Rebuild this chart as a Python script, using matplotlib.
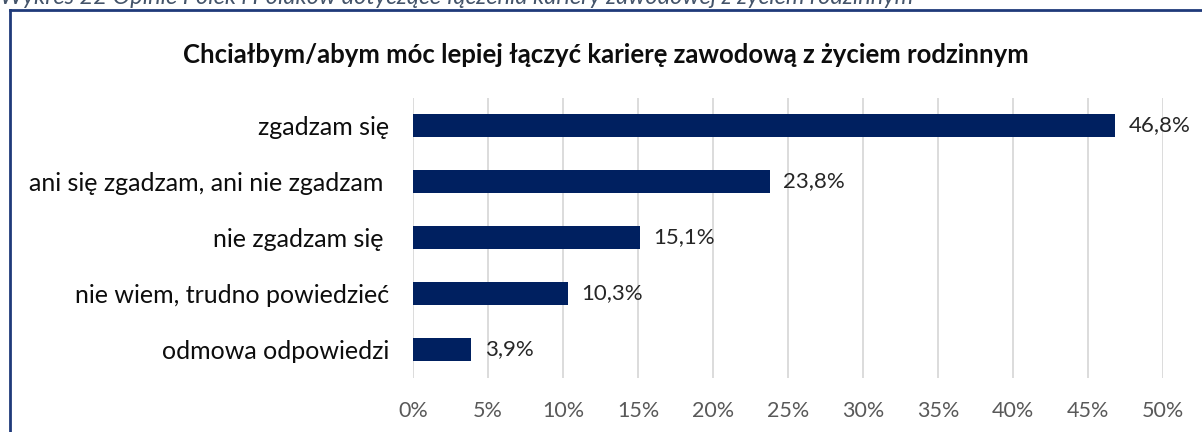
import matplotlib.pyplot as plt
from matplotlib.lines import Line2D
from matplotlib.ticker import FuncFormatter, MultipleLocator

# Data
categories = ["zgadzam się", "ani się zgadzam, ani nie zgadzam ", "nie zgadzam się ",
              "nie wiem, trudno powiedzieć", "odmowa odpowiedzi"]
values = [46.8, 23.8, 15.1, 10.3, 3.9]
title = "Chciałbym/abym móc lepiej łączyć karierę zawodową z życiem rodzinnym"
caption = "Wykres 22 Opinie Polek i Polaków dotyczące łączenia kariery zawodowej z życiem rodzinnym"

plt.rcParams['font.family'] = ['Lato', 'DejaVu Sans']

W, H = 1202, 432
fig = plt.figure(figsize=(W / 100, H / 100), dpi=100)

# plot area in pixels
x0, x1 = 413, 1163
y_top, y_bot = 97.5, 377.5
ax = fig.add_axes([x0 / W, 1 - y_bot / H, (x1 - x0) / W, (y_bot - y_top) / H])

pos = list(range(len(categories)))
ax.barh(pos, values, height=0.41, color='#002060', zorder=3)
for p, v in zip(pos, values):
    ax.text(v + 0.9, p, f"{v:.1f}%".replace('.', ','), va='center', ha='left',
            fontsize=16, color='#262626')

ax.set_xlim(0, 50)
ax.set_ylim(len(categories) - 0.5, -0.5)
ax.xaxis.set_major_locator(MultipleLocator(5))
ax.xaxis.set_major_formatter(FuncFormatter(lambda x, _: f"{x:.0f}%"))
ax.grid(axis='x', color='#d9d9d9', linewidth=1.3, zorder=0)
ax.set_yticks(pos)
ax.set_yticklabels(categories, fontsize=18, color='#0d0d0d')
ax.tick_params(axis='y', length=0, pad=17)
ax.tick_params(axis='x', length=0, pad=17, labelsize=15.5, labelcolor='#595959')
for s in ax.spines.values():
    s.set_visible(False)

fig.text(606 / W, 1 - 55 / H, title, ha='center', va='center', fontsize=18.5,
         fontweight='bold', color='#0d0d0d')
fig.text(0, 1 - 4 / H, caption, ha='left', va='baseline', fontsize=17,
         style='italic', color='#44546a')

# frame border (left and top edges visible)
fig.add_artist(Line2D([10 / W, 10 / W], [0, 1 - 10 / H], color='#1f3a7a', linewidth=2,
                      transform=fig.transFigure))
fig.add_artist(Line2D([10 / W, 1], [1 - 10 / H, 1 - 10 / H], color='#1f3a7a', linewidth=2,
                      transform=fig.transFigure))

fig.savefig('out.png', dpi=100)
